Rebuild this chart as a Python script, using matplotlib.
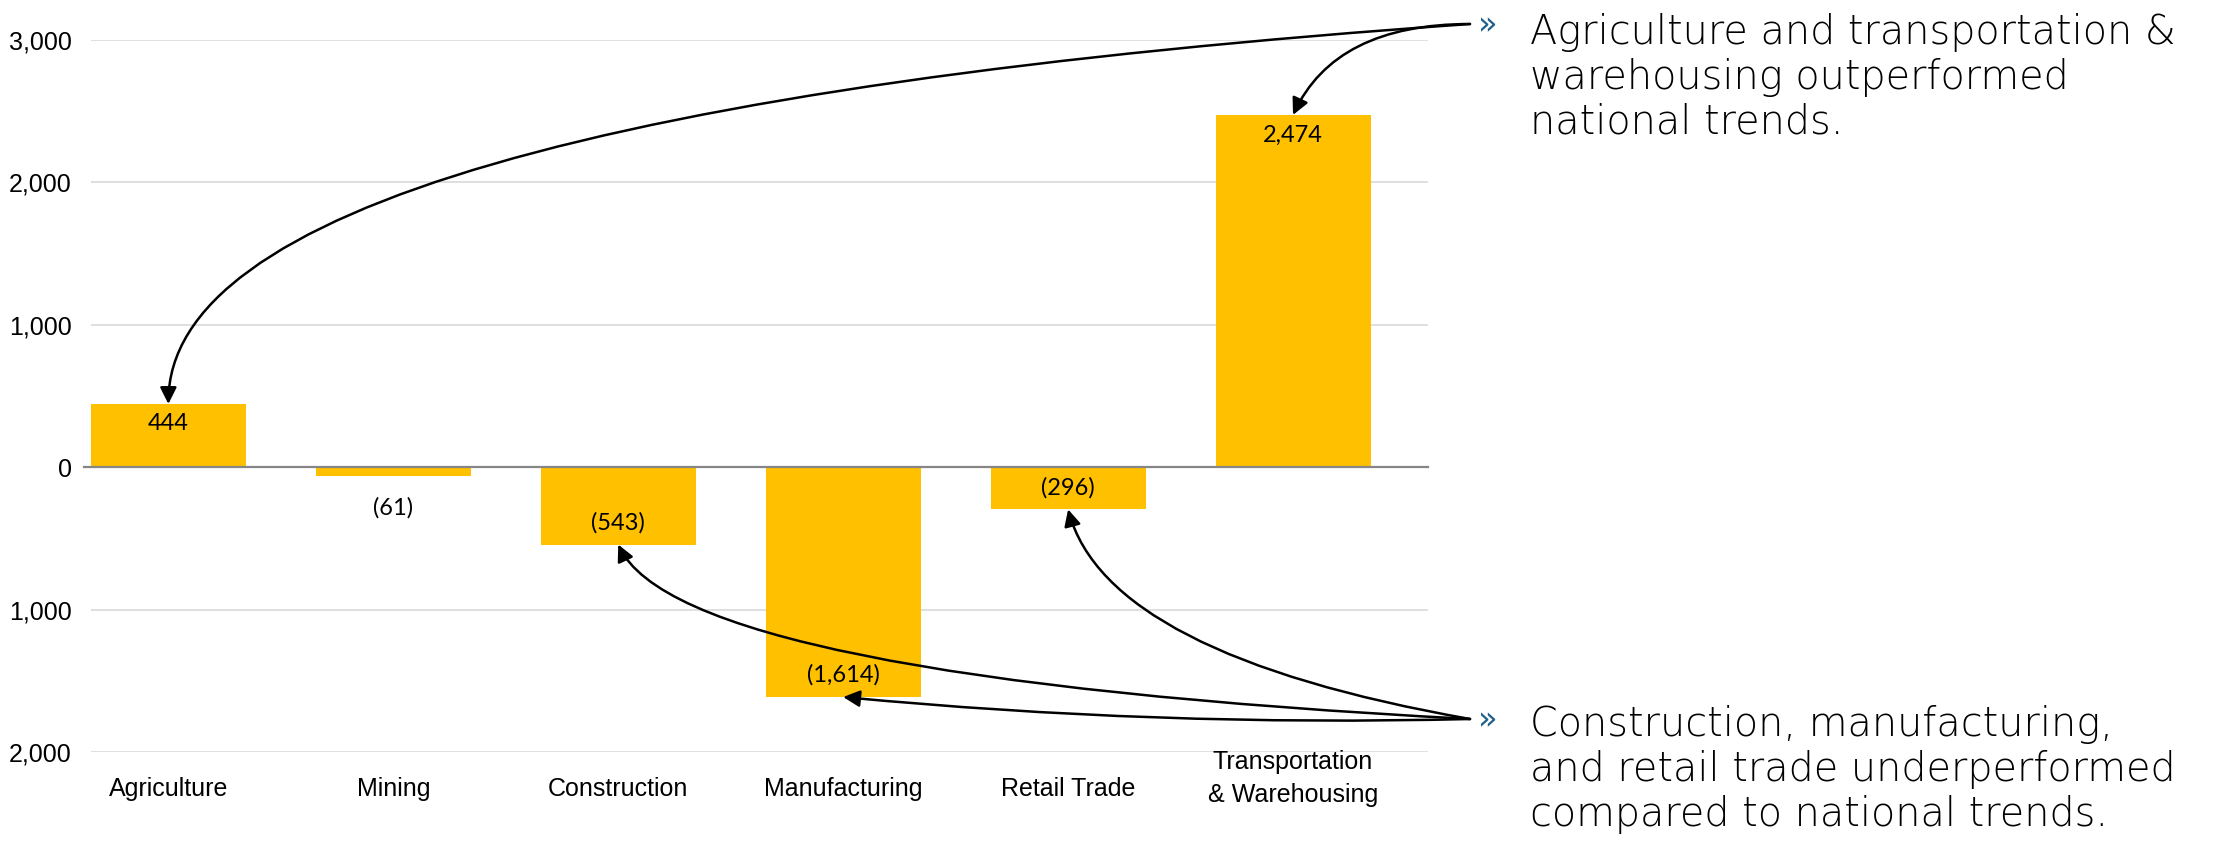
import matplotlib
matplotlib.use("Agg")
import matplotlib.pyplot as plt
from matplotlib.ticker import FuncFormatter

categories = ["Agriculture", "Mining", "Construction", "Manufacturing",
              "Retail Trade", "Transportation\n& Warehousing"]
values = [444, -61, -543, -1614, -296, 2474]
yticks = [-2000, -1000, 0, 1000, 2000, 3000]

note_top = "Agriculture and transportation &\nwarehousing outperformed\nnational trends."
note_bottom = "Construction, manufacturing,\nand retail trade underperformed\ncompared to national trends."
# bars each note points at, with the arrow's connection style
top_targets = [(0, "angle3,angleA=4,angleB=90"),
               (5, "angle3,angleA=0,angleB=65")]
bottom_targets = [(2, "angle3,angleA=-3,angleB=115"),
                  (3, "arc3,rad=-0.03"),
                  (4, "angle3,angleA=-10,angleB=105")]

BAR = "#FFC000"
ARIAL = "Liberation Sans"
NOTE_FONT = "DejaVu Sans"

W, H = 2217, 843
fig = plt.figure(figsize=(W / 100, H / 100), dpi=100)
ax = fig.add_axes([91 / W, 1 - 752 / H, 1337 / W, (752 - 40) / H])

x = range(len(values))
ax.bar(x, values, width=0.689, color=BAR, zorder=2)
ax.set_xlim(-0.344, 5.6)
ax.set_ylim(-2000, 3000)

ax.set_yticks(yticks)
ax.yaxis.set_major_formatter(FuncFormatter(lambda v, p: f"{abs(v):,.0f}"))
ax.tick_params(axis="y", length=0, pad=14, labelsize=18)
for lab in ax.get_yticklabels():
    lab.set_fontfamily(ARIAL)
ax.grid(axis="y", color="#D9D9D9", lw=1.2, zorder=0)
ax.axhline(0, color="#868686", lw=1.6, zorder=3, xmin=-0.005, clip_on=False)
ax.set_xticks([])
for s in ax.spines.values():
    s.set_visible(False)

# category names under the plot
for i, c in enumerate(categories):
    nlines = c.count("\n") + 1
    ax.text(i, -0.052 + 0.015 * (nlines - 1), c, transform=ax.get_xaxis_transform(),
            ha="center", va="center", fontsize=18, family=ARIAL, linespacing=1.45)

# data labels, inside the bar end unless the bar is too short
for i, v in enumerate(values):
    txt = f"{v:,}" if v >= 0 else f"({-v:,})"
    if abs(v) < 200:
        off = -32
    else:
        off = -20 if v > 0 else 22
    ax.annotate(txt, (i, v), xytext=(0, off * 0.72), textcoords="offset points",
                ha="center", va="center", fontsize=17, family="Lato", zorder=4)

# commentary on the right (y is the baseline of the last line)
fig.text(1530 / W, 1 - 134 / H, note_top, ha="left", va="baseline",
         fontsize=28.6, family=NOTE_FONT, weight="light", linespacing=1.2)
fig.text(1530 / W, 1 - 826 / H, note_bottom, ha="left", va="baseline",
         fontsize=28.6, family=NOTE_FONT, weight="light", linespacing=1.2)
for yb in (26, 721):
    fig.text(1488 / W, 1 - yb / H, "\u00bb", ha="center", va="center",
             fontsize=23, color="#1F5F8B", family="DejaVu Sans")

arrow = dict(arrowstyle="-|>,head_length=0.5,head_width=0.25", mutation_scale=20,
             color="black", lw=1.8, shrinkA=0, shrinkB=0)
for src, targets in (((1470 / W, 1 - 24 / H), top_targets),
                     ((1470 / W, 1 - 719 / H), bottom_targets)):
    for i, cs in targets:
        ax.annotate("", xy=(i, values[i]), xycoords="data", xytext=src,
                    textcoords="figure fraction",
                    arrowprops=dict(arrow, connectionstyle=cs), zorder=5)

fig.savefig("out.png", dpi=100)
